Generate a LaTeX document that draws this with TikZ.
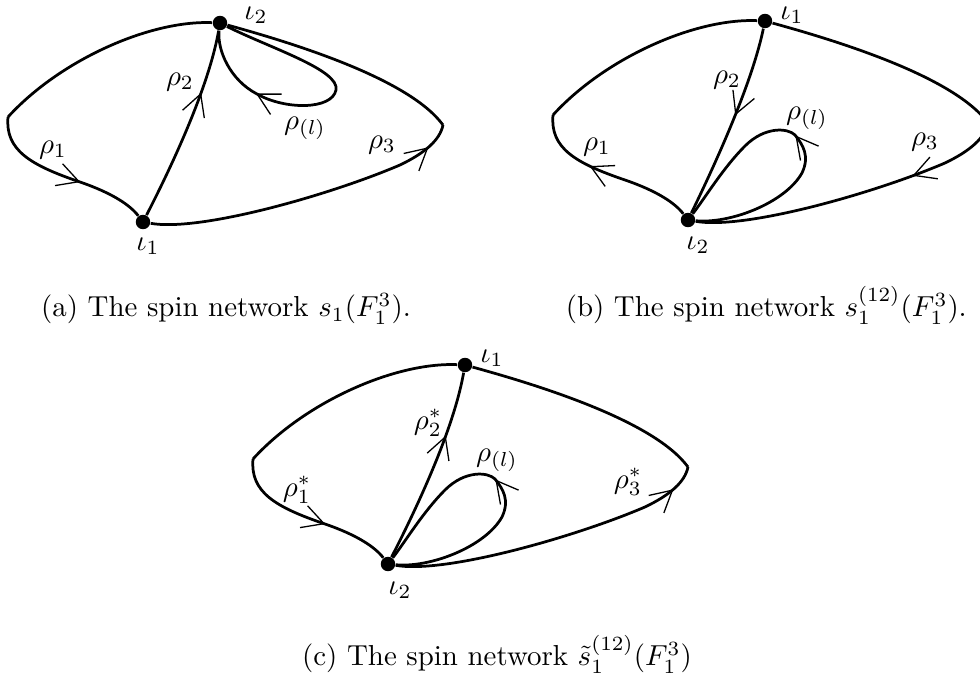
\documentclass[tikz,border=0pt]{standalone}
\usetikzlibrary{arrows.meta,decorations.markings}
\tikzset{
  edge/.style={line width=0.95pt, line join=round},
  dot/.style={circle, fill=black, inner sep=0pt, minimum size=5pt},
  lbl/.style={inner sep=0pt},
  barb/.tip={Straight Barb[length=7.4pt,width=8pt,line width=0.45pt]},
  fwd/.style={postaction={decorate,decoration={markings,mark=at position #1 with {\arrow{barb}}}}},
  bwd/.style={postaction={decorate,decoration={markings,mark=at position #1 with {\arrowreversed{barb}}}}},
}
\begin{document}
\begin{tikzpicture}[x=0.346pt,y=-0.346pt]
\useasboundingbox (0,0) rectangle (980,677);

% ---------------- (a) ----------------
\begin{scope}[name prefix=a-]
\node[dot] (T) at (220,23) {};
\node[dot] (B) at (143,222) {};
\coordinate (L) at (8,117);
\coordinate (R) at (443,125);
\draw[edge] (T) .. controls (150,20) and (60,60) .. (L);
\draw[edge,fwd=0.61] (L) .. controls (5,150) and (30,165) .. (80,182) .. controls (112,193) and (130,205) .. (B);
\draw[edge,fwd=0.915] (B) .. controls (200,232) and (330,195) .. (400,165) .. controls (425,153) and (440,140) .. (R);
\draw[edge] (T) .. controls (300,45) and (410,80) .. (R);
\draw[edge,fwd=0.675] (B) .. controls (180,150) and (210,80) .. (T);
\draw[edge,fwd=0.74] (T) .. controls (270,48) and (340,70) .. (336,90) .. controls (332,110) and (285,110) .. (257,94) .. controls (230,80) and (217,50) .. (T);
\node[lbl] (lt) at (256,15) {$\iota_2$};
\node[lbl] (lb) at (148,246) {$\iota_1$};
\node[lbl] (r2) at (180,82) {$\rho_2$};
\node[lbl] (rl) at (305,128) {$\rho_{(l)}$};
\node[lbl] (r1) at (53,150) {$\rho_1$};
\node[lbl] (r3) at (382,145) {$\rho_3$};
\end{scope}
\node[anchor=base] (capa) at (226,317) {(a) The spin network $s_1(F_1^3)$.};

% ---------------- (b) ----------------
\begin{scope}[shift={(545,-2)},name prefix=b-]
\node[dot] (T) at (220,23) {};
\node[dot] (B) at (143,222) {};
\coordinate (L) at (8,117);
\coordinate (R) at (443,125);
\draw[edge] (T) .. controls (150,20) and (60,60) .. (L);
\draw[edge,bwd=0.39] (L) .. controls (5,150) and (30,165) .. (80,182) .. controls (112,193) and (130,205) .. (B);
\draw[edge,bwd=0.70] (B) .. controls (200,232) and (330,195) .. (400,165) .. controls (425,153) and (440,140) .. (R);
\draw[edge] (T) .. controls (300,45) and (410,80) .. (R);
\draw[edge,bwd=0.54] (B) .. controls (178,150) and (208,80) .. (T);
\draw[edge,fwd=0.533] (B) .. controls (185,226) and (240,205) .. (257,175) .. controls (265,158) and (258,147) .. (250,137) .. controls (243,130) and (220,128) .. (200,148) .. controls (178,170) and (160,200) .. (B);
\node[lbl] (lt) at (247,17) {$\iota_1$};
\node[lbl] (lb) at (153,247) {$\iota_2$};
\node[lbl] (r2) at (182,82) {$\rho_2$};
\node[lbl] (rl) at (262,120) {$\rho_{(l)}$};
\node[lbl] (r1) at (52,149) {$\rho_1$};
\node[lbl] (r3) at (380,144) {$\rho_3$};
\end{scope}
\node[anchor=base east] (capb) at (977,317) {(b) The spin network $s_1^{(12)}(F_1^3)$.};

% ---------------- (c) ----------------
\begin{scope}[shift={(245,342)},name prefix=c-]
\node[dot] (T) at (220,23) {};
\node[dot] (B) at (143,222) {};
\coordinate (L) at (8,117);
\coordinate (R) at (443,125);
\draw[edge] (T) .. controls (150,20) and (60,60) .. (L);
\draw[edge,fwd=0.61] (L) .. controls (5,150) and (30,165) .. (80,182) .. controls (112,193) and (130,205) .. (B);
\draw[edge,fwd=0.915] (B) .. controls (200,232) and (330,195) .. (400,165) .. controls (425,153) and (440,140) .. (R);
\draw[edge] (T) .. controls (300,45) and (410,80) .. (R);
\draw[edge,fwd=0.67] (B) .. controls (180,150) and (210,80) .. (T);
\draw[edge,fwd=0.533] (B) .. controls (185,226) and (240,205) .. (257,175) .. controls (265,158) and (258,147) .. (250,137) .. controls (243,130) and (220,128) .. (200,148) .. controls (178,170) and (160,200) .. (B);
\node[lbl] (lt) at (247,16) {$\iota_1$};
\node[lbl] (lb) at (155,248) {$\iota_2$};
\node[lbl] (r2) at (183,81) {$\rho_2^*$};
\node[lbl] (rl) at (252,118) {$\rho_{(l)}$};
\node[lbl] (r1) at (52,148) {$\rho_1^*$};
\node[lbl] (r3) at (383,140) {$\rho_3^*$};
\end{scope}
\node[anchor=base] (capc) at (497,666) {(c) The spin network $\tilde{s}_1^{(12)}(F_1^3)$};
\end{tikzpicture}
\end{document}
